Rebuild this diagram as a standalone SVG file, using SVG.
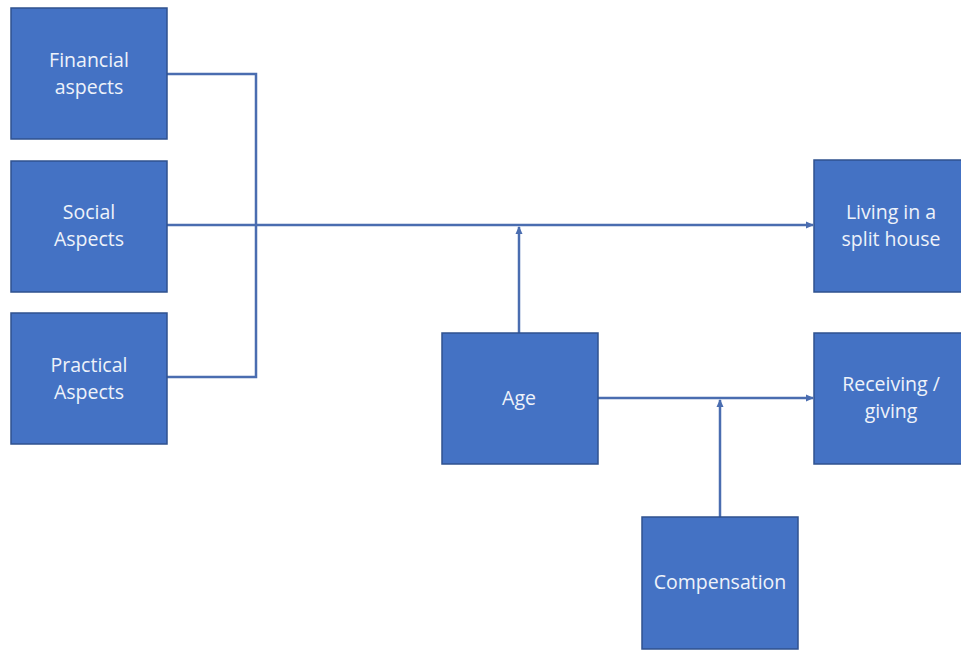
<svg xmlns="http://www.w3.org/2000/svg" width="961" height="650" viewBox="0 0 961 650">
<style>
.box{fill:#4472C4;stroke:#2F528F;stroke-width:1.5}
.t{font-family:"Open Sans",Lato,"Liberation Sans",sans-serif;font-size:19.5px;fill:#EEF2FA;text-anchor:middle}
.c{fill:none;stroke:#4A6DB0;stroke-width:2.5}
</style>
<defs>
<marker id="ah" markerWidth="8" markerHeight="8" refX="7" refY="4" orient="auto" markerUnits="userSpaceOnUse">
<path d="M0,0.5 L8,4 L0,7.5 Z" fill="#4A6DB0"/>
</marker>
</defs>
<rect width="961" height="650" fill="#ffffff"/>
<g id="connectors">
<polyline class="c" points="167,74 256,74 256,377 167,377"/>
<line class="c" x1="167" y1="225" x2="813" y2="225" marker-end="url(#ah)"/>
<line class="c" x1="519" y1="333" x2="519" y2="227" marker-end="url(#ah)"/>
<line class="c" x1="598" y1="398" x2="813" y2="398" marker-end="url(#ah)"/>
<line class="c" x1="720" y1="517" x2="720" y2="400" marker-end="url(#ah)"/>
</g>
<g id="financial"><rect class="box" x="11" y="8" width="156" height="131"/><text class="t" x="89" y="67">Financial</text><text class="t" x="89" y="94">aspects</text></g>
<g id="social"><rect class="box" x="11" y="161" width="156" height="131"/><text class="t" x="89" y="219">Social</text><text class="t" x="89" y="246">Aspects</text></g>
<g id="practical"><rect class="box" x="11" y="313" width="156" height="131"/><text class="t" x="89" y="372">Practical</text><text class="t" x="89" y="399">Aspects</text></g>
<g id="age"><rect class="box" x="442" y="333" width="156" height="131"/><text class="t" x="519" y="405">Age</text></g>
<g id="compensation"><rect class="box" x="642" y="517" width="156" height="132"/><text class="t" x="720" y="589">Compensation</text></g>
<g id="living"><rect class="box" x="814" y="160" width="156" height="132"/><text class="t" x="891" y="219">Living in a</text><text class="t" x="891" y="246">split house</text></g>
<g id="receiving"><rect class="box" x="814" y="333" width="156" height="131"/><text class="t" x="891" y="391">Receiving /</text><text class="t" x="891" y="418">giving</text></g>
</svg>
